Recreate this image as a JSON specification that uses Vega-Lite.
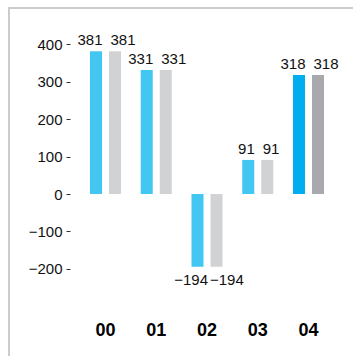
{
  "$schema": "https://vega.github.io/schema/vega-lite/v6.json",
  "width": 355.25,
  "height": 400,
  "autosize": {"type": "none"},
  "padding": {"left": 9, "top": 8, "right": -11.25, "bottom": -52},
  "background": "white",
  "config": {
    "view": {"stroke": "#cccccc", "strokeWidth": 2},
    "font": "Liberation Sans",
    "text": {"font": "Liberation Sans"}
  },
  "data": {
    "values": [
      {"year": "00", "series": "actual", "value": 381, "current": false},
      {"year": "00", "series": "plan", "value": 381, "current": false},
      {"year": "01", "series": "actual", "value": 331, "current": false},
      {"year": "01", "series": "plan", "value": 331, "current": false},
      {"year": "02", "series": "actual", "value": -194, "current": false},
      {"year": "02", "series": "plan", "value": -194, "current": false},
      {"year": "03", "series": "actual", "value": 91, "current": false},
      {"year": "03", "series": "plan", "value": 91, "current": false},
      {"year": "04", "series": "actual", "value": 318, "current": true},
      {"year": "04", "series": "plan", "value": 318, "current": true}
    ]
  },
  "encoding": {
    "x": {
      "field": "year",
      "type": "nominal",
      "scale": {"paddingInner": 0, "paddingOuter": 1, "align": 0.7007},
      "axis": {
        "title": null,
        "orient": "bottom",
        "offset": -87,
        "domain": false,
        "ticks": false,
        "tickSize": 0,
        "labelPadding": 0,
        "labelAngle": 0,
        "labelFontSize": 18,
        "labelFontWeight": "bold",
        "labelColor": "#000000"
      }
    },
    "y": {
      "field": "value",
      "type": "quantitative",
      "scale": {"domain": [-571.4, 496.7], "nice": false, "zero": false},
      "axis": {
        "title": null,
        "values": [-200, -100, 0, 100, 200, 300, 400],
        "format": "d",
        "offset": -61,
        "domain": false,
        "grid": false,
        "tickSize": 4,
        "tickColor": "#333333",
        "labelPadding": 4,
        "labelFontSize": 15,
        "labelColor": "#111111"
      }
    }
  },
  "layer": [
    {
      "mark": {"type": "bar"},
      "encoding": {
        "xOffset": {
          "field": "series",
          "scale": {"paddingInner": 0.3684, "paddingOuter": 0.5197}
        },
        "color": {
          "field": "series",
          "scale": {"domain": ["actual", "plan"], "range": ["#42c6f2", "#d1d2d4"]},
          "legend": null,
          "condition": [
            {"test": "datum.current && datum.series === 'actual'", "value": "#00aeef"},
            {"test": "datum.current", "value": "#a7a9ac"}
          ]
        }
      }
    },
    {
      "data": {"values": [{}]},
      "mark": {"type": "rule", "color": "#333333", "strokeWidth": 1.2},
      "encoding": {
        "x": {"datum": "00", "bandPosition": -0.308},
        "x2": {"datum": "04", "bandPosition": 0.7957},
        "y": {"datum": 0}
      }
    },
    {
      "transform": [{"filter": "datum.series === 'actual' && datum.value >= 0"}],
      "mark": {"type": "text", "align": "right", "baseline": "alphabetic", "dx": -3, "dy": -6, "fontSize": 15, "color": "#111111"},
      "encoding": {"text": {"field": "value", "type": "quantitative", "format": "d"}}
    },
    {
      "transform": [{"filter": "datum.series === 'plan' && datum.value >= 0"}],
      "mark": {"type": "text", "align": "left", "baseline": "alphabetic", "dx": 5, "dy": -6, "fontSize": 15, "color": "#111111"},
      "encoding": {"text": {"field": "value", "type": "quantitative", "format": "d"}}
    },
    {
      "transform": [{"filter": "datum.series === 'actual' && datum.value < 0"}],
      "mark": {"type": "text", "align": "right", "baseline": "alphabetic", "dx": 1, "dy": 18, "fontSize": 15, "color": "#111111"},
      "encoding": {"text": {"field": "value", "type": "quantitative", "format": "d"}}
    },
    {
      "transform": [{"filter": "datum.series === 'plan' && datum.value < 0"}],
      "mark": {"type": "text", "align": "left", "baseline": "alphabetic", "dx": 3, "dy": 18, "fontSize": 15, "color": "#111111"},
      "encoding": {"text": {"field": "value", "type": "quantitative", "format": "d"}}
    }
  ]
}
